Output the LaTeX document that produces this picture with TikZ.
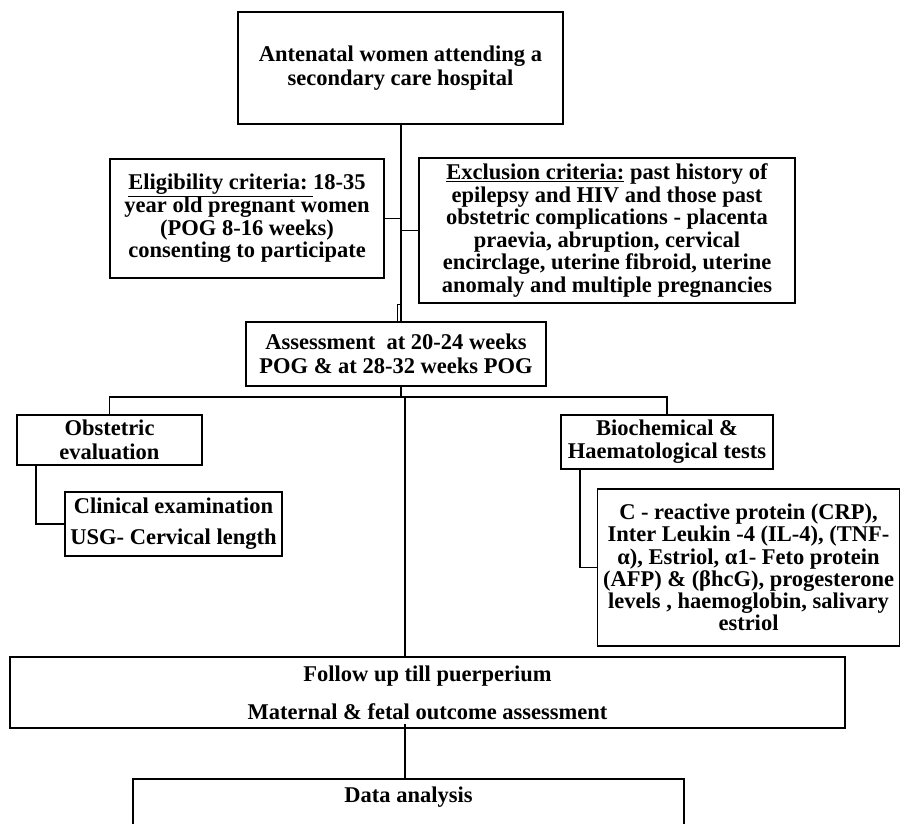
\documentclass[tikz,border=0pt]{standalone}
\usepackage{fontspec}
\setmainfont{Liberation Serif}
\usetikzlibrary{calc}
\newcommand{\bfs}[1]{\bfseries\fontsize{22.5}{#1}\selectfont\lineskiplimit=-100pt\lineskip=0pt}
\begin{document}
\begin{tikzpicture}[x=1pt,y=-1pt,
  box/.style={draw, line width=1.6pt, inner sep=0pt, align=center, font=\bfseries},
  conn/.style={line width=1.4pt},
  trunk/.style={line width=2.6pt}]
\useasboundingbox (0,0) rectangle (901,823);
\node[box, minimum width=325, minimum height=112, font=\bfs{24}] (top) at (400.5,68)
  {Antenatal women attending a\\secondary care hospital};
\node[box, minimum width=274, minimum height=119, font=\bfs{22.6}] (elig) at (247,218.5)
  {\underline{Eligibility criteria:\ }18-35\\year old pregnant women\\(POG 8-16 weeks)\\consenting to participate};
\node[box, minimum width=376, minimum height=145, font=\bfs{22.6}] (excl) at (607,230.5)
  {\underline{Exclusion criteria:} past history of\\epilepsy and HIV and those past\\obstetric complications - placenta\\praevia, abruption, cervical\\encirclage, uterine fibroid, uterine\\anomaly and multiple pregnancies};
\node[box, minimum width=300, minimum height=64, font=\bfs{24}] (assess) at (396,354)
  {Assessment \ at 20-24 weeks\\POG \& at 28-32 weeks POG};
\node[box, minimum width=185, minimum height=50, font=\bfs{23.5}] (obst) at (109.5,440)
  {Obstetric\\evaluation};
\node[box, minimum width=217, minimum height=64, font=\bfs{31}] (clin) at (173.5,524)
  {Clinical examination\\USG- Cervical length};
\node[box, minimum width=212, minimum height=54, font=\bfs{23}] (bioc) at (667,442)
  {Biochemical \&\\Haematological tests};
\node[box, minimum width=302, minimum height=157, font=\bfs{22.3}] (crp) at (748.5,567.5)
  {C - reactive protein (CRP),\\Inter Leukin -4 (IL-4), (TNF-\\α), Estriol, α1- Feto protein\\(AFP) \& (βhcG), progesterone\\levels , haemoglobin, salivary\\estriol};
\node[box, minimum width=835, minimum height=71, font=\bfs{38}] (follow) at (427.5,692.5)
  {Follow up till puerperium\\Maternal \& fetal outcome assessment};
\node[box, minimum width=551, minimum height=90, anchor=north] (data) at (408.5,778) {};
\node[font=\bfs{23}, inner sep=0pt] (datalbl) at ([yshift=-19]data.north) {Data analysis};
% connectors
\coordinate (split) at (401,397);
\coordinate (trk) at (405,397);
\coordinate (jog) at (397,304);
\coordinate (cl) at (36,0);
\coordinate (bc) at (580,0);
\draw[conn] (top.south -| split) -- (split |- assess.north);
\draw[conn] (elig.east) -- (elig.east -| split);
\draw[conn] (excl.west) -- (excl.west -| split);
\draw[line width=1pt] (jog |- assess.north) -- (jog) -- (jog -| split);
\draw[conn] (split |- assess.south) -- (split);
\draw[conn] (obst.north) -- (obst.north |- split) -- (bioc.north |- split) -- (bioc.north);
\draw[trunk] (trk) -- (trk |- follow.north);
\draw[trunk] ([yshift=5]trk |- follow.south) -- (trk |- data.north);
\draw[conn] (cl |- obst.south) |- (clin.west);
\draw[conn] (bc |- bioc.south) |- (crp.west);
\end{tikzpicture}
\end{document}
